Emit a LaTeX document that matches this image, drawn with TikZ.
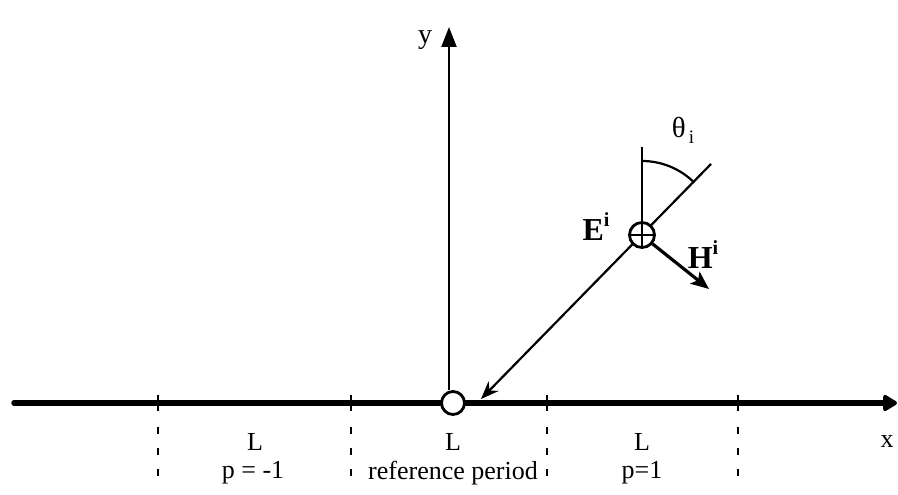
\documentclass[tikz,border=0pt]{standalone}
\usepackage{fontspec}
\setmainfont{Liberation Serif}
\usetikzlibrary{arrows.meta,calc}
\begin{document}
\begin{tikzpicture}[x=1pt,y=1pt,
  lbl/.style={font=\fontsize{26}{28}\selectfont, inner sep=0pt},
  blbl/.style={font=\fontsize{32}{34}\selectfont\bfseries, inner sep=0pt},
  sep/.style={line width=1.8pt, dash pattern=on 7pt off 14pt},
  tick/.style={line width=1.4pt},
  thin/.style={line width=2.2pt}]
\useasboundingbox (0,0) rectangle (898,495);
% x axis
\coordinate (xl) at (14,92);
\coordinate (xr) at (897,92);
\draw[line width=5.5pt, line cap=round, -{Triangle[length=16pt,width=18pt,round]}] (xl) -- (xr);
% separators
\foreach \n/\xx in {a/158,b/351,c/547,d/738}{
  \coordinate (t\n) at (\xx,100);
  \coordinate (u\n) at (\xx,84);
  \coordinate (s\n) at (\xx,68);
  \coordinate (e\n) at (\xx,14);
  \draw[tick] (t\n) -- (u\n);
  \draw[sep] (s\n) -- (e\n);
}
% origin
\node[circle, draw, line width=2.8pt, fill=white, minimum size=23pt, inner sep=0pt] (O) at (453,92) {};
\coordinate (ytop) at (449,468);
\draw[thin, -{Triangle[length=20pt,width=15pt]}] (O.north -| ytop) -- (ytop);
\node[lbl, font=\fontsize{28}{30}\selectfont] (ylab) at (425,455) {y};
% incident wave
\coordinate (inc) at (711,331);
\coordinate (tip) at (481,96);
\draw[thin, -{Stealth[length=18pt,width=14pt,inset=6pt]}] (inc) -- (tip);
\node[circle, draw, line width=2.8pt, fill=white, minimum size=25pt, inner sep=0pt] (S) at (642,260) {};
\draw[line width=2.4pt] (S.north) -- (S.south) (S.west) -- (S.east);
\coordinate (vtop) at (642,348);
\draw[thin] (vtop) -- (S.north);
\draw[thin] ($(S.center)+(0,74)$) arc[start angle=90, end angle=45, radius=74pt];
\node[lbl, font=\fontsize{29}{30}\selectfont] (th) at (683,365) {θ\raisebox{-6pt}{\fontsize{19}{20}\selectfont\,i}};
\node[blbl] (E) at (596,268) {E\raisebox{14pt}{\fontsize{20}{20}\selectfont i}};
\node[blbl] (H) at (703,240) {H\raisebox{14pt}{\fontsize{20}{20}\selectfont i}};
\coordinate (htip) at (709,206);
\draw[line width=3.2pt, -{Stealth[length=18pt,width=15pt,inset=4pt]}] (S.-40) -- (htip);
% labels
\node[lbl] (L1) at (255,53) {L};
\node[lbl] (L2) at (453,53) {L};
\node[lbl] (L3) at (642,53) {L};
\node[lbl] (p1) at (253,22) {p = -1};
\node[lbl] (rp) at (453,22) {reference period};
\node[lbl] (p2) at (642,22) {p=1};
\node[lbl] (xlab) at (887,53) {x};
\end{tikzpicture}
\end{document}
